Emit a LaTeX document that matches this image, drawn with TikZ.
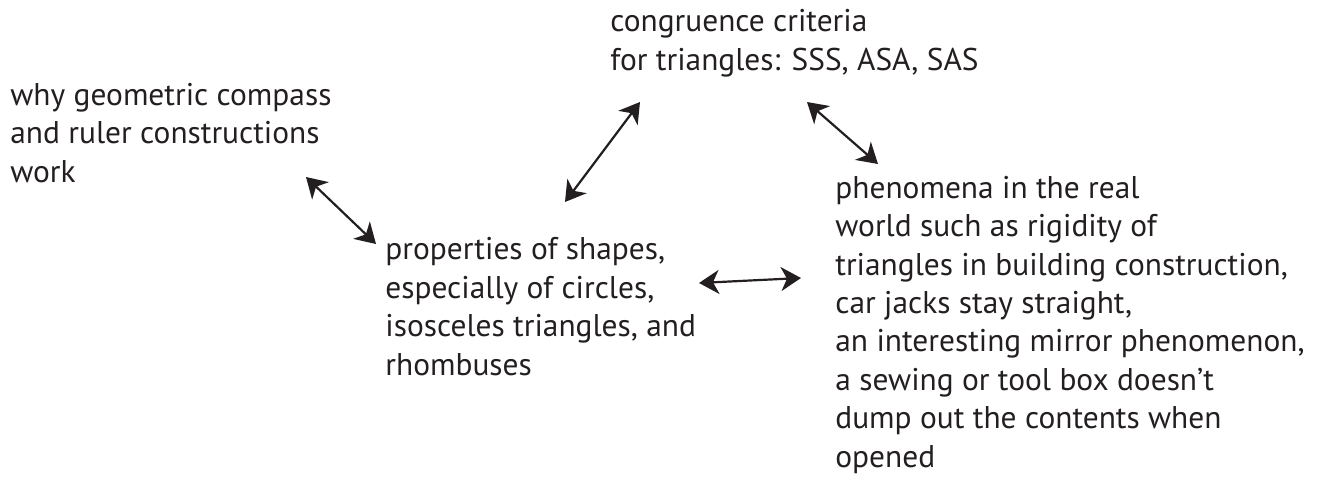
\documentclass[tikz,border=0pt]{standalone}
\usepackage{fontspec}
\setmainfont{PT Sans}
\usetikzlibrary{arrows.meta}
\definecolor{ink}{HTML}{231F20}

\begin{document}
\begin{tikzpicture}[
  x=0.5pt, y=-0.5pt,
  blurb/.style={inner sep=0pt, anchor=base west, align=left, font=\fontsize{15.7}{19.2}\selectfont, text=ink},
  link/.style={{Stealth[length=10pt, width=12pt, inset=3pt]}-{Stealth[length=10pt, width=12pt, inset=3pt]}, line width=1.1pt, ink}
]
  \useasboundingbox (0,0) rectangle (1318,477);

  % nodes sit on the baseline of their last line
  \node (why) [blurb] at (10,182) {why geometric compass\\and ruler constructions\\work};
  \node (crit) [blurb] at (610,70) {congruence criteria\\for triangles: SSS, ASA, SAS};
  \node (props) [blurb] at (385,375) {properties of shapes,\\especially of circles,\\isosceles triangles, and\\rhombuses};
  \node (phen) [blurb] at (835,467) {phenomena in the real\\world such as rigidity of\\triangles in building construction,\\car jacks stay straight,\\an interesting mirror phenomenon,\\a sewing or tool box doesn't\\dump out the contents when\\opened};

  % arrow ends
  \coordinate (why-e) at (306,177);
  \coordinate (props-w) at (376,244);
  \coordinate (props-n) at (565,202);
  \coordinate (crit-s) at (640,102);
  \coordinate (crit-e) at (807,102);
  \coordinate (phen-n) at (878,164);
  \coordinate (props-e) at (699,283);
  \coordinate (phen-w) at (801,278);

  \draw [link] (why-e) -- (props-w);
  \draw [link] (props-n) -- (crit-s);
  \draw [link] (crit-e) -- (phen-n);
  \draw [link] (props-e) -- (phen-w);
\end{tikzpicture}
\end{document}
